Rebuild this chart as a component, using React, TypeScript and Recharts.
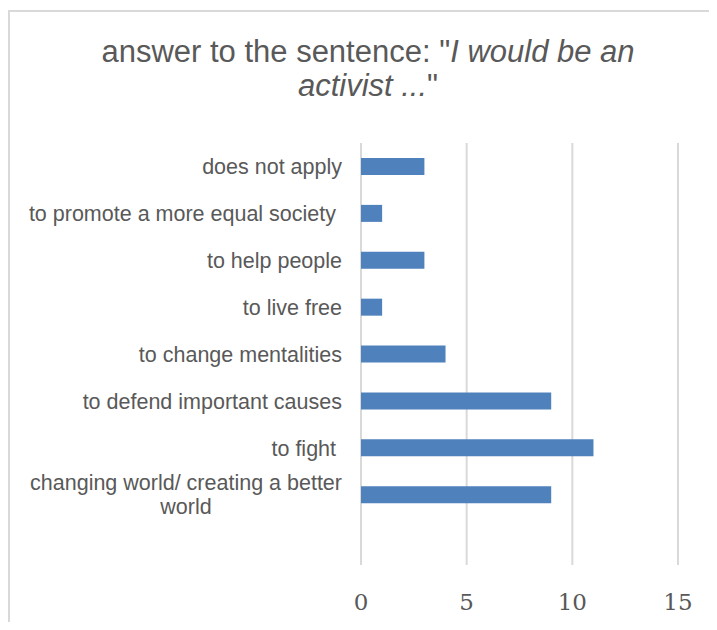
import React from 'react';
import { BarChart, Bar, XAxis, YAxis, CartesianGrid } from 'recharts';

const categories = [
  'does not apply',
  'to promote a more equal society ',
  'to help people',
  'to live free',
  'to change mentalities',
  'to defend important causes',
  'to fight ',
  'changing world/ creating a better world',
  '',
];
const counts: (number | null)[] = [3, 1, 3, 1, 4, 9, 11, 9, null];
const xTicks = [0, 5, 10, 15];

const data = categories.map((name, i) => ({ name, value: counts[i] }));

const TEXT = '#595959';
const GRID = '#d9d9d9';
const LABEL_FONT = 21.5;
const LABEL_FAMILY = '"Liberation Sans", Arial, sans-serif';

let ctx: CanvasRenderingContext2D | null = null;
const measure = (s: string) => {
  if (!ctx) ctx = document.createElement('canvas').getContext('2d');
  if (!ctx) return s.length * LABEL_FONT * 0.5;
  ctx.font = `${LABEL_FONT}px "Liberation Sans"`;
  return ctx.measureText(s).width;
};

// greedy word wrap, like Excel does for long category names
const wrap = (s: string, maxW: number) => {
  if (measure(s) <= maxW) return [s];
  const words = s.split(' ');
  const lines: string[] = [];
  let cur = '';
  words.forEach((w) => {
    const next = cur ? cur + ' ' + w : w;
    if (cur && measure(next) > maxW) {
      lines.push(cur);
      cur = w;
    } else {
      cur = next;
    }
  });
  if (cur) lines.push(cur);
  return lines;
};

const CategoryTick = ({ x, y, payload }: any) => {
  const label: string = payload.value;
  if (!label) return null;
  const lines = wrap(label, 335);
  if (lines.length === 1) {
    return (
      <text x={x} y={y} dy="0.36em" textAnchor="end" fill={TEXT}
        fontSize={LABEL_FONT} fontFamily={LABEL_FAMILY} style={{ whiteSpace: 'pre' }}>
        {label}
      </text>
    );
  }
  const w = Math.max(...lines.map(measure));
  const lh = 24;
  const first = y - ((lines.length - 1) * lh) / 2;
  return (
    <text x={x - w / 2} y={first} textAnchor="middle" fill={TEXT}
      fontSize={LABEL_FONT} fontFamily={LABEL_FAMILY}>
      {lines.map((l, i) => (
        <tspan key={i} x={x - w / 2} dy={i === 0 ? '0.36em' : lh}>{l}</tspan>
      ))}
    </text>
  );
};

export default function App() {
  return (
    <div style={{ position: 'relative', width: 701, height: 614, overflow: 'hidden', background: '#fff' }}>
      <div
        style={{
          position: 'absolute', left: 0, top: 2, right: -10, bottom: -10,
          borderLeft: `2px solid ${GRID}`, borderTop: `2px solid ${GRID}`,
        }}
      />
      <div
        style={{
          position: 'absolute', left: 19, top: 27, width: 682, textAlign: 'center',
          fontFamily: LABEL_FAMILY, fontSize: 31, lineHeight: '34px', color: TEXT,
        }}
      >
        answer to the sentence: "<i>I would be an</i>
        <br />
        <i>activist ...</i>"
      </div>
      <BarChart
        width={701}
        height={614}
        data={data}
        layout="vertical"
        margin={{ top: 135, right: 31, bottom: 0, left: 0 }}
        barCategoryGap={0}
      >
        <CartesianGrid horizontal={false} stroke={GRID} strokeWidth={2} />
        <XAxis
          type="number"
          domain={[0, 15]}
          ticks={xTicks}
          axisLine={false}
          tickLine={false}
          tickSize={0}
          tickMargin={29}
          height={57}
          tick={{ fill: TEXT, fontSize: 23, fontFamily: '"DejaVu Serif", serif' }}
        />
        <YAxis
          type="category"
          dataKey="name"
          width={353}
          axisLine={false}
          tickLine={false}
          tickSize={0}
          tickMargin={19}
          interval={0}
          tick={<CategoryTick />}
        />
        <Bar dataKey="value" fill="#4f81bd" barSize={17} isAnimationActive={false} />
      </BarChart>
    </div>
  );
}
